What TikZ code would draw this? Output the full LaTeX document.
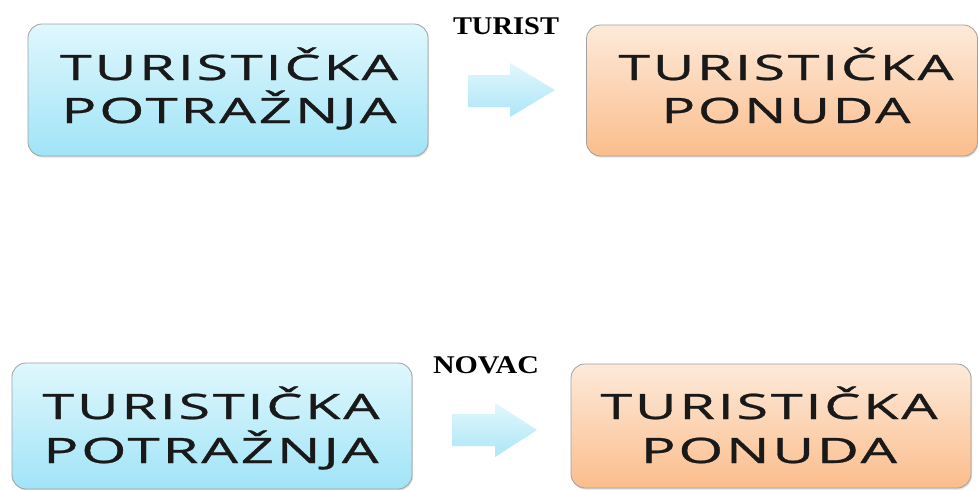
\documentclass[tikz,border=0pt]{standalone}
\usepackage{fontspec}
\usepackage{graphicx}
\usetikzlibrary{shadows}
\newfontfamily\boxfont[FakeBold=0.7, LetterSpace=5]{Open Sans}
\newfontfamily\labfont{Liberation Serif}
\definecolor{bluetop}{RGB}{224,247,253}
\definecolor{bluebot}{RGB}{160,228,247}
\definecolor{orgtop}{RGB}{253,234,218}
\definecolor{orgbot}{RGB}{251,189,140}
\definecolor{boxedge}{RGB}{160,160,160}
\definecolor{arrtop}{RGB}{226,247,252}
\definecolor{arrbot}{RGB}{172,230,247}
\newcommand\wline[2]{\resizebox{#1pt}{\height}{#2}}
\begin{document}
\begin{tikzpicture}[x=1pt,y=-1pt,
  boxbase/.style={draw=boxedge, line width=0.8pt, rounded corners=14pt,
    minimum width=400pt, inner sep=0pt, outer sep=0pt,
    drop shadow={shadow xshift=1pt, shadow yshift=-1.5pt, opacity=0.25}},
  bluebox/.style={boxbase, top color=bluetop, bottom color=bluebot},
  orgbox/.style={boxbase, top color=orgtop, bottom color=orgbot},
  boxtext/.style={anchor=base, inner sep=0pt, font=\boxfont\fontsize{35}{42}\selectfont, text=black!90},
  labtext/.style={anchor=base, inner sep=0pt, font=\labfont\bfseries\fontsize{25.5}{30}\selectfont, text=black},
  blockarrow/.style={top color=arrtop, bottom color=arrbot, draw=none}]
\useasboundingbox (0,0) rectangle (978,490);
\fill[white] (0,0) rectangle (978,490);
% top row
\node[bluebox, minimum height=132pt] (d1) at (228,90) {};
\node[orgbox, minimum height=131pt, minimum width=391pt] (p1) at (782,90.5) {};
\node[boxtext] (d1a) at (229,80) {\wline{338}{TURISTIČKA}};
\node[boxtext] (d1b) at (229,123) {\wline{335}{POTRAŽNJA}};
\node[boxtext] (p1a) at (786,80) {\wline{335}{TURISTIČKA}};
\node[boxtext] (p1b) at (786,123) {\wline{249}{PONUDA}};
\node[labtext] (l1) at (506,34) {\wline{106}{TURIST}};
\shade[blockarrow] (468,75) -- (510,75) -- (510,63) -- (555,90) -- (510,117) -- (510,107) -- (468,107) -- cycle;
% bottom row
\node[bluebox, minimum height=126pt] (d2) at (212,426) {};
\node[orgbox, minimum height=124pt] (p2) at (771,426) {};
\node[boxtext] (d2a) at (211,419) {\wline{337}{TURISTIČKA}};
\node[boxtext] (d2b) at (211,463) {\wline{335}{POTRAŽNJA}};
\node[boxtext] (p2a) at (769,419) {\wline{337}{TURISTIČKA}};
\node[boxtext] (p2b) at (769,463) {\wline{256}{PONUDA}};
\node[labtext] (l2) at (486,373) {\wline{106}{NOVAC}};
\shade[blockarrow] (452,414) -- (495,414) -- (495,403) -- (537,430) -- (495,457) -- (495,446) -- (452,446) -- cycle;
\end{tikzpicture}
\end{document}
